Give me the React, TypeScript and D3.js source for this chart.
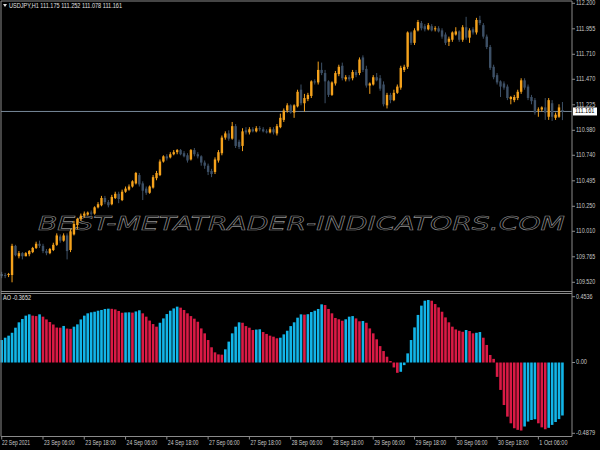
import React from 'react';
import * as d3 from 'd3';

// USDJPY H1 candles, 22 Sep 2021 18:00 .. 1 Oct 2021 14:00
const opens = [
  109.60, 109.59, 109.59, 109.59, 109.87, 109.77, 109.80, 109.77, 109.79, 109.81,
  109.85, 109.89, 109.87, 109.82, 109.80, 109.83, 109.88, 109.96, 109.92, 109.97,
  109.83, 109.98, 110.07, 110.13, 110.16, 110.17, 110.19, 110.18, 110.24, 110.26,
  110.33, 110.29, 110.27, 110.33, 110.37, 110.31, 110.39, 110.41, 110.44, 110.47,
  110.55, 110.47, 110.42, 110.38, 110.43, 110.52, 110.55, 110.68, 110.73, 110.72,
  110.75, 110.77, 110.79, 110.76, 110.74, 110.70, 110.79, 110.75, 110.73, 110.67,
  110.64, 110.59, 110.58, 110.69, 110.76, 110.91, 110.95, 110.90, 111.02, 110.87,
  110.83, 110.98, 110.96, 110.99, 110.97, 111.00, 110.99, 110.97, 110.96, 110.99,
  110.95, 111.01, 111.08, 111.17, 111.22, 111.15, 111.21, 111.37, 111.24, 111.28,
  111.31, 111.45, 111.44, 111.56, 111.53, 111.45, 111.32, 111.43, 111.52, 111.60,
  111.47, 111.49, 111.48, 111.54, 111.53, 111.68, 111.57, 111.41, 111.42, 111.49,
  111.48, 111.42, 111.22, 111.32, 111.27, 111.34, 111.39, 111.56, 111.59, 111.92,
  111.82, 111.94, 112.01, 111.98, 111.95, 111.98, 111.95, 111.96, 111.94, 111.90,
  111.83, 111.85, 111.90, 111.93, 111.85, 111.97, 111.87, 111.95, 111.92, 112.04,
  111.99, 111.88, 111.78, 111.59, 111.51, 111.45, 111.43, 111.40, 111.28, 111.27,
  111.29, 111.35, 111.46, 111.40, 111.30, 111.27, 111.17, 111.18, 111.20, 111.11,
  111.24, 111.10, 111.11, 111.175,
];
const highs = [
  109.62, 109.61, 109.61, 109.89, 109.88, 109.82, 109.81, 109.81, 109.83, 109.86,
  109.91, 109.92, 109.89, 109.84, 109.85, 109.90, 109.99, 109.98, 109.99, 109.99,
  110.03, 110.11, 110.14, 110.18, 110.20, 110.20, 110.21, 110.25, 110.29, 110.35,
  110.35, 110.31, 110.36, 110.39, 110.39, 110.41, 110.44, 110.46, 110.50, 110.58,
  110.57, 110.49, 110.44, 110.45, 110.55, 110.59, 110.70, 110.74, 110.75, 110.77,
  110.79, 110.80, 110.80, 110.78, 110.76, 110.80, 110.81, 110.77, 110.74, 110.69,
  110.66, 110.61, 110.72, 110.79, 110.93, 110.97, 110.98, 111.06, 111.04, 110.89,
  111.00, 111.01, 111.01, 111.01, 111.02, 111.02, 111.01, 110.99, 111.01, 111.01,
  111.04, 111.14, 111.19, 111.24, 111.23, 111.23, 111.37, 111.42, 111.33, 111.34,
  111.46, 111.47, 111.64, 111.63, 111.56, 111.46, 111.45, 111.55, 111.61, 111.63,
  111.51, 111.51, 111.56, 111.56, 111.68, 111.70, 111.60, 111.44, 111.51, 111.53,
  111.51, 111.45, 111.34, 111.34, 111.37, 111.42, 111.60, 111.61, 111.93, 111.93,
  111.96, 112.04, 112.03, 112.00, 112.01, 112.00, 111.98, 111.98, 111.96, 111.92,
  111.88, 111.93, 111.97, 111.94, 111.99, 112.07, 111.96, 111.97, 112.06, 112.08,
  112.01, 111.90, 111.80, 111.61, 111.53, 111.46, 111.45, 111.42, 111.31, 111.32,
  111.37, 111.48, 111.48, 111.42, 111.32, 111.29, 111.20, 111.21, 111.29, 111.29,
  111.27, 111.15, 111.23, 111.252,
];
const lows = [
  109.56, 109.56, 109.57, 109.52, 109.77, 109.75, 109.74, 109.77, 109.77, 109.80,
  109.84, 109.85, 109.80, 109.78, 109.79, 109.82, 109.87, 109.90, 109.91, 109.74,
  109.81, 109.97, 110.03, 110.11, 110.14, 110.16, 110.16, 110.17, 110.23, 110.25,
  110.27, 110.24, 110.26, 110.32, 110.28, 110.30, 110.38, 110.40, 110.43, 110.46,
  110.44, 110.31, 110.36, 110.37, 110.42, 110.50, 110.54, 110.67, 110.69, 110.71,
  110.74, 110.75, 110.74, 110.72, 110.67, 110.69, 110.73, 110.71, 110.64, 110.61,
  110.55, 110.53, 110.56, 110.67, 110.74, 110.89, 110.88, 110.89, 110.81, 110.80,
  110.78, 110.94, 110.94, 110.96, 110.96, 110.97, 110.96, 110.95, 110.95, 110.94,
  110.93, 111.00, 111.06, 111.15, 111.14, 111.10, 111.20, 111.22, 111.16, 111.26,
  111.29, 111.42, 111.42, 111.51, 111.24, 111.30, 111.31, 111.41, 111.50, 111.46,
  111.45, 111.45, 111.46, 111.49, 111.51, 111.54, 111.39, 111.33, 111.41, 111.45,
  111.36, 111.21, 111.19, 111.24, 111.26, 111.33, 111.37, 111.54, 111.57, 111.80,
  111.80, 111.93, 111.94, 111.93, 111.94, 111.93, 111.93, 111.92, 111.86, 111.80,
  111.79, 111.83, 111.89, 111.83, 111.83, 111.85, 111.82, 111.90, 111.90, 111.99,
  111.86, 111.76, 111.56, 111.47, 111.42, 111.30, 111.37, 111.27, 111.23, 111.25,
  111.27, 111.33, 111.37, 111.27, 111.23, 111.13, 111.11, 111.16, 111.08, 111.08,
  111.07, 111.08, 111.10, 111.078,
];
const closes = [
  109.58, 109.58, 109.60, 109.87, 109.78, 109.80, 109.77, 109.80, 109.82, 109.85,
  109.89, 109.87, 109.82, 109.80, 109.84, 109.88, 109.97, 109.92, 109.97, 109.82,
  110.01, 110.08, 110.13, 110.16, 110.18, 110.19, 110.18, 110.24, 110.27, 110.33,
  110.29, 110.26, 110.34, 110.37, 110.32, 110.39, 110.42, 110.44, 110.49, 110.57,
  110.46, 110.40, 110.38, 110.44, 110.53, 110.57, 110.68, 110.73, 110.71, 110.75,
  110.77, 110.79, 110.75, 110.73, 110.69, 110.79, 110.75, 110.73, 110.67, 110.64,
  110.58, 110.56, 110.70, 110.77, 110.91, 110.95, 110.90, 111.02, 110.83, 110.82,
  110.97, 110.96, 110.99, 110.97, 111.00, 110.99, 110.97, 110.96, 110.99, 110.96,
  111.02, 111.10, 111.17, 111.22, 111.15, 111.22, 111.35, 111.24, 111.29, 111.32,
  111.45, 111.44, 111.56, 111.53, 111.45, 111.32, 111.44, 111.53, 111.59, 111.48,
  111.49, 111.47, 111.54, 111.51, 111.66, 111.56, 111.41, 111.43, 111.49, 111.46,
  111.38, 111.23, 111.32, 111.27, 111.34, 111.40, 111.58, 111.59, 111.92, 111.82,
  111.94, 112.02, 111.96, 111.95, 111.99, 111.94, 111.96, 111.93, 111.88, 111.82,
  111.86, 111.92, 111.93, 111.85, 111.97, 111.87, 111.94, 111.92, 112.04, 112.01,
  111.88, 111.78, 111.58, 111.49, 111.44, 111.40, 111.39, 111.29, 111.30, 111.30,
  111.35, 111.46, 111.39, 111.29, 111.26, 111.15, 111.18, 111.20, 111.15, 111.27,
  111.11, 111.13, 111.20, 111.161,
];

// Awesome Oscillator values, one per candle
const aoValues = [
  0.155, 0.171, 0.185, 0.205, 0.240, 0.277, 0.300, 0.323, 0.332, 0.323,
  0.320, 0.332, 0.316, 0.297, 0.279, 0.262, 0.241, 0.240, 0.252, 0.234,
  0.232, 0.247, 0.263, 0.297, 0.323, 0.339, 0.346, 0.350, 0.357, 0.362,
  0.369, 0.371, 0.370, 0.366, 0.355, 0.343, 0.345, 0.346, 0.344, 0.352,
  0.360, 0.339, 0.316, 0.289, 0.265, 0.247, 0.274, 0.304, 0.334, 0.357,
  0.373, 0.385, 0.378, 0.362, 0.339, 0.320, 0.302, 0.281, 0.235, 0.201,
  0.155, 0.105, 0.070, 0.056, 0.054, 0.091, 0.144, 0.201, 0.247, 0.277,
  0.274, 0.251, 0.240, 0.224, 0.227, 0.229, 0.210, 0.197, 0.185, 0.178,
  0.167, 0.171, 0.194, 0.219, 0.251, 0.277, 0.309, 0.332, 0.330, 0.333,
  0.348, 0.357, 0.369, 0.401, 0.396, 0.369, 0.339, 0.307, 0.298, 0.288,
  0.298, 0.316, 0.320, 0.304, 0.284, 0.286, 0.274, 0.235, 0.201, 0.160,
  0.113, 0.079, 0.040, 0.010, -0.034, -0.071, -0.064, -0.018, 0.063, 0.155,
  0.242, 0.328, 0.392, 0.426, 0.431, 0.426, 0.403, 0.380, 0.350, 0.311,
  0.277, 0.247, 0.228, 0.219, 0.212, 0.224, 0.217, 0.201, 0.205, 0.210,
  0.171, 0.121, 0.052, 0.025, -0.099, -0.189, -0.293, -0.373, -0.419, -0.453,
  -0.464, -0.469, -0.441, -0.407, -0.396, -0.391, -0.419, -0.447, -0.460, -0.450,
  -0.430, -0.410, -0.390, -0.3652,
];

const priceTicks = ['112.200', '111.955', '111.710', '111.470', '111.225', '110.980', '110.740', '110.495', '110.250', '110.010', '109.765', '109.520'];
const aoTicks = ['0.4536', '0.00', '-0.4879'];
const timeLabels = ['22 Sep 2021', '23 Sep 06:00', '23 Sep 18:00', '24 Sep 06:00', '24 Sep 18:00', '27 Sep 06:00', '27 Sep 18:00', '28 Sep 06:00', '28 Sep 18:00', '29 Sep 06:00', '29 Sep 18:00', '30 Sep 06:00', '30 Sep 18:00', '1 Oct 06:00'];
const timeLabelBars = [0, 12, 24, 36, 48, 60, 72, 84, 96, 108, 120, 132, 144, 156];
const titleText = 'USDJPY,H1  111.175 111.252 111.078 111.161';
const aoTitle = 'AO -0.3652';
const bidPrice = 111.161;
const watermark = 'BEST-METATRADER-INDICATORS.COM';

const BULL = '#f5a21c';
const BEAR = '#3d5066';
const AO_UP = '#12b5e8';
const AO_DOWN = '#da1a45';
const FRAME = '#8a8a8a';
const TEXT = '#c8c8c8';
const FONT = "'Liberation Sans', Arial, sans-serif";

// MT4 uses a narrow bitmap font; squeeze text to the measured widths
function Small({ x, y, w, fill = TEXT, children }: { x: number; y: number; w: number; fill?: string; children: string }) {
  return (
    <text x={x} y={y} dominantBaseline="middle" fontFamily={FONT} fontSize={7} fill={fill}
      textLength={w} lengthAdjust="spacingAndGlyphs">
      {children}
    </text>
  );
}

export default function App() {
  const W = 600, H = 450;
  const left = 1, right = 572;
  const mainTop = 1, mainBottom = 291.5;
  const aoTop = 293.5, aoBottom = 436.5;

  const idx = d3.range(closes.length);
  const x = d3.scaleBand<number>().domain(idx).range([0, 3.44 * closes.length]);
  const cx = (i: number) => (x(i) ?? 0) + x.bandwidth() / 2;

  const yPrice = d3.scaleLinear().domain([109.52, 112.2]).range([282.3, 3.3]);
  const yAO = d3.scaleLinear().domain([-0.4879, 0.4536]).range([433.3, 296.7]);

  const bodyW = 2.4;
  const barW = 2.6;

  return (
    <svg width={W} height={H} style={{ position: 'absolute', left: 0, top: 0, background: '#000' }}>
      <rect width={W} height={H} fill="#000" />

      {/* watermark */}
      <text
        x={38}
        y={230}
        textLength={527}
        lengthAdjust="spacingAndGlyphs"
        fontFamily="'DejaVu Sans', sans-serif"
        fontStyle="italic"
        fontSize={20}
        fill="none"
        stroke="#8e8e8e"
        strokeWidth={0.55}
      >
        {watermark}
      </text>

      {/* bid line */}
      <line x1={left} x2={right} y1={yPrice(bidPrice)} y2={yPrice(bidPrice)} stroke="#778899" strokeWidth={1} />

      {/* candles */}
      <g>
        {idx.map(i => {
          const o = opens[i], c = closes[i];
          const col = c >= o ? BULL : BEAR;
          const top = yPrice(Math.max(o, c));
          const h = Math.max(1, Math.abs(yPrice(o) - yPrice(c)));
          return (
            <g key={i}>
              <line x1={cx(i)} x2={cx(i)} y1={yPrice(highs[i])} y2={yPrice(lows[i])} stroke={col} strokeWidth={1} />
              <rect x={cx(i) - bodyW / 2} y={top} width={bodyW} height={h} fill={col} />
            </g>
          );
        })}
      </g>

      {/* AO histogram */}
      <g>
        {idx.map(i => {
          const v = aoValues[i];
          const up = i === 0 || v >= aoValues[i - 1];
          const y0 = yAO(0);
          const y1 = yAO(v);
          return (
            <rect
              key={i}
              x={cx(i) - barW / 2}
              y={Math.min(y0, y1)}
              width={barW}
              height={Math.max(0.8, Math.abs(y1 - y0))}
              fill={up ? AO_UP : AO_DOWN}
            />
          );
        })}
      </g>

      {/* frames */}
      <g stroke={FRAME} strokeWidth={1} fill="none">
        <line x1={left} x2={right} y1={mainTop} y2={mainTop} />
        <line x1={left} x2={left} y1={mainTop} y2={aoBottom} />
        <line x1={right} x2={right} y1={mainTop} y2={aoBottom} />
        <line x1={left} x2={right} y1={mainBottom} y2={mainBottom} />
        <line x1={left} x2={right} y1={aoTop} y2={aoTop} />
        <line x1={left} x2={right} y1={aoBottom} y2={aoBottom} />
      </g>

      {/* price axis */}
      {priceTicks.map(t => (
        <g key={t}>
          <line x1={right} x2={right + 3} y1={yPrice(+t)} y2={yPrice(+t)} stroke={FRAME} />
          <Small x={576} y={yPrice(+t)} w={t.length * 2.75}>{t}</Small>
        </g>
      ))}
      {aoTicks.map(t => (
        <g key={t}>
          <line x1={right} x2={right + 3} y1={yAO(+t)} y2={yAO(+t)} stroke={FRAME} />
          <Small x={576} y={yAO(+t)} w={t.length * 2.75}>{t}</Small>
        </g>
      ))}

      {/* current price box */}
      <rect x={573} y={yPrice(bidPrice) - 4} width={24} height={8} fill="#fff" />
      <Small x={575} y={yPrice(bidPrice)} w={19.5} fill="#000">{bidPrice.toFixed(3)}</Small>

      {/* time axis */}
      {timeLabels.map((t, k) => {
        const tx = cx(timeLabelBars[k]);
        return (
          <g key={t}>
            <line x1={tx} x2={tx} y1={aoBottom} y2={aoBottom + 3} stroke={FRAME} />
            <Small x={k === 0 ? 2 : tx + 1} y={443.5} w={t.length * 2.55}>{t}</Small>
          </g>
        );
      })}

      {/* titles */}
      <path d="M3,4 L7,4 L5,7 Z" fill="#e0e0e0" />
      <Small x={9} y={6} w={113} fill="#e0e0e0">{titleText}</Small>
      <Small x={3} y={298} w={28} fill="#e0e0e0">{aoTitle}</Small>
    </svg>
  );
}
